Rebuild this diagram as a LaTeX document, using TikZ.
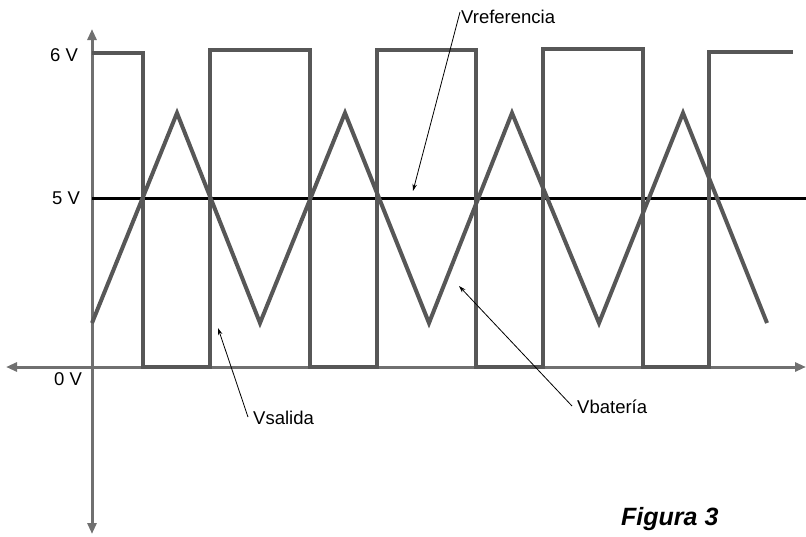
\documentclass[tikz,border=0pt]{standalone}
\usepackage{fontspec}
\setmainfont{Liberation Sans}
\usetikzlibrary{arrows.meta}
\definecolor{wave}{HTML}{575757}
\definecolor{axisc}{HTML}{707070}
\tikzset{
  axisline/.style={draw=axisc, line width=3pt, {Triangle[length=11pt,width=9pt]}-{Triangle[length=11pt,width=9pt]}},
  waveline/.style={draw=wave, line width=4pt, line join=miter},
  refline/.style={draw=black, line width=3pt},
  pointer/.style={draw=black, line width=0.8pt, -{Stealth[length=7pt,width=4.5pt]}},
  lbl/.style={font=\fontsize{18.5}{22}\selectfont, inner sep=0pt},
  fig/.style={font=\fontsize{25}{30}\selectfont\bfseries\itshape, inner sep=0pt}
}
\begin{document}
\begin{tikzpicture}[x=1pt,y=-1pt]
\useasboundingbox (0,0) rectangle (806,536);
% axes
\coordinate (xl) at (6,367);
\coordinate (xr) at (806,367);
\coordinate (yt) at (92,29);
\coordinate (yb) at (92,534);
\draw[axisline] (xl) -- (xr);
\draw[axisline] (yt) -- (yb);
% reference 5 V
\coordinate (r0) at (92,198);
\coordinate (r1) at (806,198);
\draw[refline] (r0) -- (r1);
% square wave
\draw[waveline] (92,53) -- (143,53) -- (143,367) -- (210,367) -- (210,50) -- (310,50) -- (310,367)
  -- (377,367) -- (377,50) -- (476,50) -- (476,367) -- (543,367) -- (543,49) -- (643,49)
  -- (643,367) -- (709,367) -- (709,52) -- (793,52);
% triangle wave
\draw[waveline] (92,323) -- (177,113) -- (260,323) -- (345,113) -- (429,323) -- (512,113)
  -- (599,323) -- (683,113) -- (767,323);
% level labels
\node[lbl] (l6) at (64,55) {6 V};
\node[lbl] (l5) at (66,198) {5 V};
\node[lbl] (l0) at (68,379) {0 V};
% signal labels
\node[lbl, anchor=west] (vref) at (461,17) {Vreferencia};
\node[lbl, anchor=west] (vsal) at (253,418) {Vsalida};
\node[lbl, anchor=west] (vbat) at (577,407) {Vbatería};
\coordinate (pref) at (413,191);
\coordinate (psal) at (218,328);
\coordinate (pbat) at (459,286);
\draw[pointer] ([xshift=-1pt,yshift=5pt]vref.west) -- (pref);
\draw[pointer] ([xshift=-5pt,yshift=1pt]vsal.west) -- (psal);
\draw[pointer] ([xshift=-5pt,yshift=1pt]vbat.west) -- (pbat);
% caption
\node[fig, anchor=west] (cap) at (621,519) {Figura 3};
\end{tikzpicture}
\end{document}
